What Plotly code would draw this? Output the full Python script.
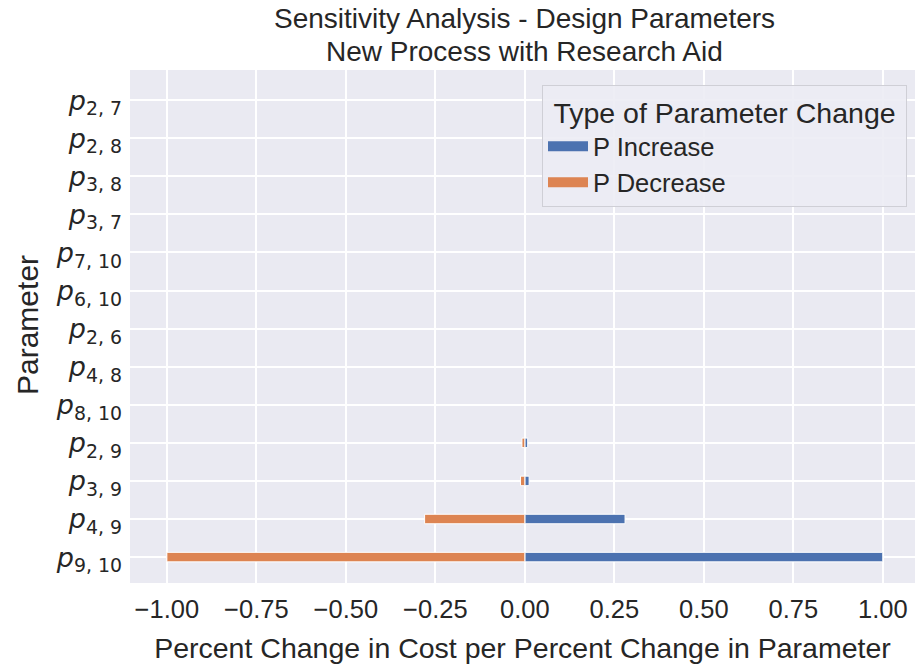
import plotly.graph_objects as go

params = ["2, 7", "2, 8", "3, 8", "3, 7", "7, 10", "6, 10", "2, 6", "4, 8",
          "8, 10", "2, 9", "3, 9", "4, 9", "9, 10"]
p_increase = [0, 0, 0, 0, 0, 0, 0, 0, 0, 0.008, 0.012, 0.28, 1.0]
p_decrease = [0, 0, 0, 0, 0, 0, 0, 0, 0, -0.008, -0.012, -0.28, -1.0]
x_ticks = [-1.0, -0.75, -0.5, -0.25, 0.0, 0.25, 0.5, 0.75, 1.0]
title_lines = ["Sensitivity Analysis - Design Parameters", "New Process with Research Aid"]

labels = [f"<i>p</i><sub>{p}</sub>" for p in params]
BLUE = "#4c72b0"
ORANGE = "#dd8452"
FONT = "Liberation Sans, Arial, sans-serif"
TXT = "#262626"

W, H = 915, 671
L, R, T, B = 130, 0, 70, 88
PW, PH = W - L - R, H - T - B


def px_to_paper_y(ypix):
    return (H - B - ypix) / PH


def px_to_paper_x(xpix):
    return (xpix - L) / PW


fig = go.Figure()
fig.add_trace(go.Bar(y=labels, x=p_increase, orientation="h", width=0.25,
                     marker=dict(color=BLUE, line=dict(color="white", width=1)),
                     showlegend=False))
fig.add_trace(go.Bar(y=labels, x=p_decrease, orientation="h", width=0.25,
                     marker=dict(color=ORANGE, line=dict(color="white", width=1)),
                     showlegend=False))
# legend swatches
fig.add_trace(go.Scatter(x=[None], y=[None], mode="lines", name="P Increase",
                         line=dict(color=BLUE, width=15)))
fig.add_trace(go.Scatter(x=[None], y=[None], mode="lines", name="P Decrease",
                         line=dict(color=ORANGE, width=15)))

annotations = [
    dict(text=title_lines[0], x=px_to_paper_x(524), y=px_to_paper_y(18),
         xref="paper", yref="paper", xanchor="center", yanchor="middle",
         showarrow=False, font=dict(size=28, family=FONT, color=TXT)),
    dict(text=title_lines[1], x=px_to_paper_x(524), y=px_to_paper_y(51),
         xref="paper", yref="paper", xanchor="center", yanchor="middle",
         showarrow=False, font=dict(size=28, family=FONT, color=TXT)),
    dict(text="Parameter", x=px_to_paper_x(27), y=px_to_paper_y(325),
         xref="paper", yref="paper", xanchor="center", yanchor="middle",
         textangle=-90, showarrow=False, font=dict(size=30, family=FONT, color=TXT)),
]

fig.update_layout(
    width=W, height=H,
    margin=dict(l=L, r=R, t=T, b=B),
    barmode="overlay",
    paper_bgcolor="white",
    plot_bgcolor="#eaeaf2",
    font=dict(family=FONT, size=25, color=TXT),
    annotations=annotations,
    legend=dict(
        title=dict(text="\u00a0Type of Parameter Change\u00a0", side="top center",
                   font=dict(size=28.5, family=FONT, color=TXT)),
        x=px_to_paper_x(907), xanchor="right", y=px_to_paper_y(85), yanchor="top",
        bgcolor="rgba(236,236,244,0.9)", bordercolor="#cfcfd6", borderwidth=1,
        font=dict(size=25.5, family=FONT, color=TXT),
        itemwidth=40, tracegroupgap=0,
    ),
)
fig.update_xaxes(
    range=[-1.103, 1.090], tickvals=x_ticks,
    ticktext=[f"{v:.2f}".replace("-", "\u2212") for v in x_ticks],
    showgrid=True, gridcolor="white", gridwidth=1.5, zeroline=False,
    ticks="", ticklabelstandoff=8,
    title=dict(text="Percent Change in Cost per Percent Change in Parameter",
               font=dict(size=28.5, family=FONT, color=TXT), standoff=16),
    tickfont=dict(size=25.5, family=FONT, color=TXT),
)
fig.update_yaxes(
    type="category", categoryorder="array", categoryarray=labels,
    range=[12.68, -0.79],
    showgrid=True, gridcolor="white", gridwidth=1.5, zeroline=False,
    ticks="", ticklabelstandoff=7,
    tickfont=dict(size=27, family="DejaVu Sans", color=TXT),
)

fig.write_html("out.html")
